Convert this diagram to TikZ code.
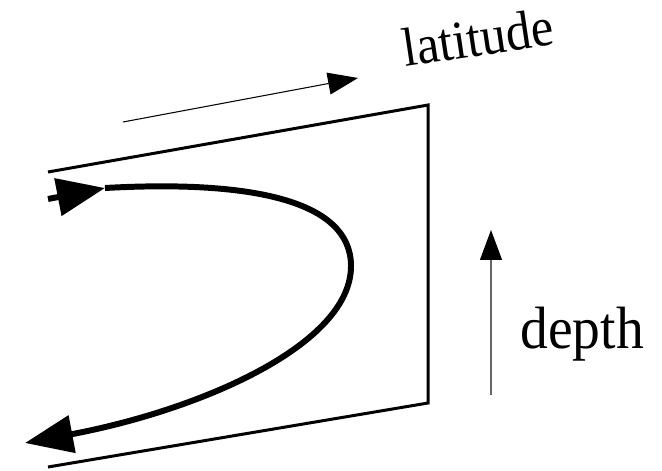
\documentclass[tikz,border=0pt]{standalone}
\usepackage{fontspec}
\setmainfont{Liberation Serif}
\newfontfamily\lblfont[FakeStretch=0.93]{Liberation Serif}
\usetikzlibrary{arrows.meta}
\tikzset{
  frameline/.style = {line width=1.7pt, line join=miter},
  flowarr/.style   = {line width=3.4pt, -{Triangle[length=9.6mm,width=7.4mm]}},
  axisarr/.style   = {line width=0.6pt, -{Triangle[length=6mm,width=4.4mm,color=black]}},
  axislabel/.style = {inner sep=0pt, anchor=base west}
}

\begin{document}
\begin{tikzpicture}[x=0.02cm,y=-0.02cm]
  \useasboundingbox (0,0) rectangle (662,470);
  % the open frame
  \coordinate (TL) at (48,172);
  \coordinate (TR) at (428,105);
  \coordinate (BR) at (428,403);
  \coordinate (BL) at (48,467);
  \draw[frameline] (TL) -- (TR) -- (BR) -- (BL);
  % the loop, in at the top and out at the bottom
  \coordinate (in0) at (48,199);
  \coordinate (in1) at (105,188);
  \coordinate (east) at (351,266);
  \coordinate (out) at (25,443);
  \draw[flowarr] (in0) -- (in1);
  \draw[flowarr] (in1) .. controls (250,180) and (351,200) .. (east)
                       .. controls (351,345) and (200,410) .. (out);
  % direction arrows with their labels
  \coordinate (lat0) at (123,122);
  \coordinate (lat1) at (358,78);
  \draw[axisarr] (lat0) -- (lat1);
  \node[axislabel,rotate=8.5,font=\lblfont\fontsize{31}{36}\selectfont] (latlab) at (405,67) {latitude};
  \coordinate (dep0) at (491,395);
  \coordinate (dep1) at (491,230);
  \draw[axisarr,draw=gray!80!black] (dep0) -- (dep1);
  \node[axislabel,font=\lblfont\fontsize{34}{40}\selectfont] (deplab) at (520,348) {depth};
\end{tikzpicture}
\end{document}
